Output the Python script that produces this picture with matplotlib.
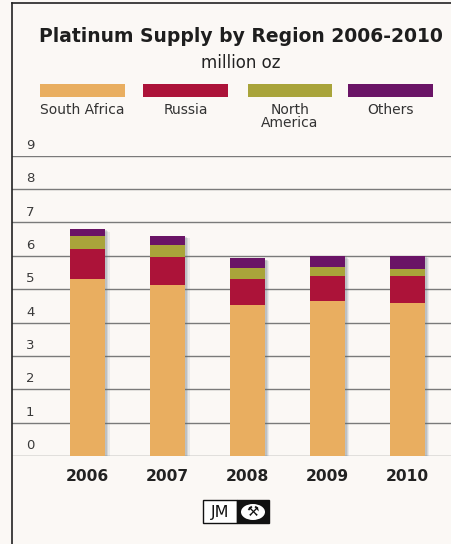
import numpy as np
import matplotlib.pyplot as plt
from matplotlib.patches import Rectangle, Ellipse
from matplotlib.lines import Line2D

years = ['2006', '2007', '2008', '2009', '2010']
south_africa = [5.31, 5.11, 4.53, 4.64, 4.60]
russia = [0.90, 0.85, 0.77, 0.76, 0.79]
north_america = [0.37, 0.37, 0.34, 0.26, 0.22]
others = [0.22, 0.27, 0.28, 0.33, 0.39]

series = [('South Africa', south_africa, '#E9AE60'),
          ('Russia', russia, '#AC1339'),
          ('North\nAmerica', north_america, '#A9A43A'),
          ('Others', others, '#6A1466')]

W, H = 451, 544
bg = '#FBF8F5'
font = 'DejaVu Sans'
fig = plt.figure(figsize=(W / 100, H / 100), dpi=100, facecolor=bg)

# axes placed in pixel coordinates: x 12..451, y 456 (0) .. 155.7 (9)
ax = fig.add_axes([12 / W, (H - 456) / H, (W - 12) / W, (456 - 155.7) / H])
ax.set_facecolor(bg)
ax.set_xlim(-0.944, 4.544)
ax.set_ylim(0, 9)
for s in ax.spines.values():
    s.set_visible(False)
ax.set_xticks([])
ax.set_yticks([])

for v in range(10):
    ax.axhline(v, color='#7a7a7a', lw=1.0, zorder=1)
    ax.text(-0.77, v + 0.31, str(v), fontsize=9.5, color='#3a3a3a',
            ha='left', va='center', family=font)

x = np.arange(len(years))
totals = np.sum([south_africa, russia, north_america, others], axis=0)
# soft shadow behind each stack
for i in range(len(years)):
    for k, a in enumerate([0.2, 0.15, 0.1]):
        sh = Rectangle((x[i] - 0.22 + 0.025 + 0.015 * k, 0), 0.44, totals[i] - 0.04 - 0.02 * k,
                       facecolor='#5d6d78', alpha=a, edgecolor='none', zorder=2)
        ax.add_patch(sh)

bottom = np.zeros(len(years))
for name, vals, col in series:
    ax.bar(x, vals, width=0.44, bottom=bottom, color=col, zorder=3)
    bottom += np.array(vals)

for i, y in enumerate(years):
    ax.text(x[i], -0.6, y, fontsize=11.2, fontweight='bold', color='#222222',
            ha='center', va='center', family=font)

# frame lines
fig.add_artist(Line2D([12 / W, 12 / W], [0, 1 - 3 / H], color='#222222', lw=1.2))
fig.add_artist(Line2D([12 / W, 1], [1 - 3 / H, 1 - 3 / H], color='#222222', lw=1.2))

# title
fig.text(241 / W, 1 - 37 / H, 'Platinum Supply by Region 2006-2010', fontsize=13.5,
         fontweight='bold', color='#1e1e1e', ha='center', va='center', family=font)
fig.text(241 / W, 1 - 63 / H, 'million oz', fontsize=12, color='#222222',
         ha='center', va='center', family=font)

# legend
swatches = [(40, 125), (143, 228), (248, 332), (348, 433)]
for (x0, x1), (name, vals, col) in zip(swatches, series):
    fig.add_artist(Rectangle((x0 / W, 1 - 97 / H), (x1 - x0) / W, 13 / H,
                             facecolor=col, edgecolor='none', transform=fig.transFigure))
    fig.text((x0 + x1) / 2 / W, 1 - 103 / H, name, fontsize=10, color='#333333',
             ha='center', va='top', family=font, linespacing=0.92)

# JM logo
fig.add_artist(Rectangle((203 / W, 1 - 523 / H), 34 / W, 23 / H, facecolor='white',
                         edgecolor='#111111', lw=1, transform=fig.transFigure))
fig.add_artist(Rectangle((237 / W, 1 - 523 / H), 32 / W, 23 / H, facecolor='#111111',
                         edgecolor='#111111', lw=1, transform=fig.transFigure))
fig.text(220 / W, 1 - 512 / H, 'JM', fontsize=11.5, color='#111111', ha='center',
         va='center', family=font)
fig.add_artist(Ellipse((253 / W, 1 - 512 / H), 24 / W, 16 / H, facecolor='white',
                       edgecolor='none', transform=fig.transFigure))
fig.text(253 / W, 1 - 512 / H, '\u2692', fontsize=10, color='#111111', ha='center',
         va='center', family=font)

fig.savefig('out.png', dpi=100, facecolor=bg)
